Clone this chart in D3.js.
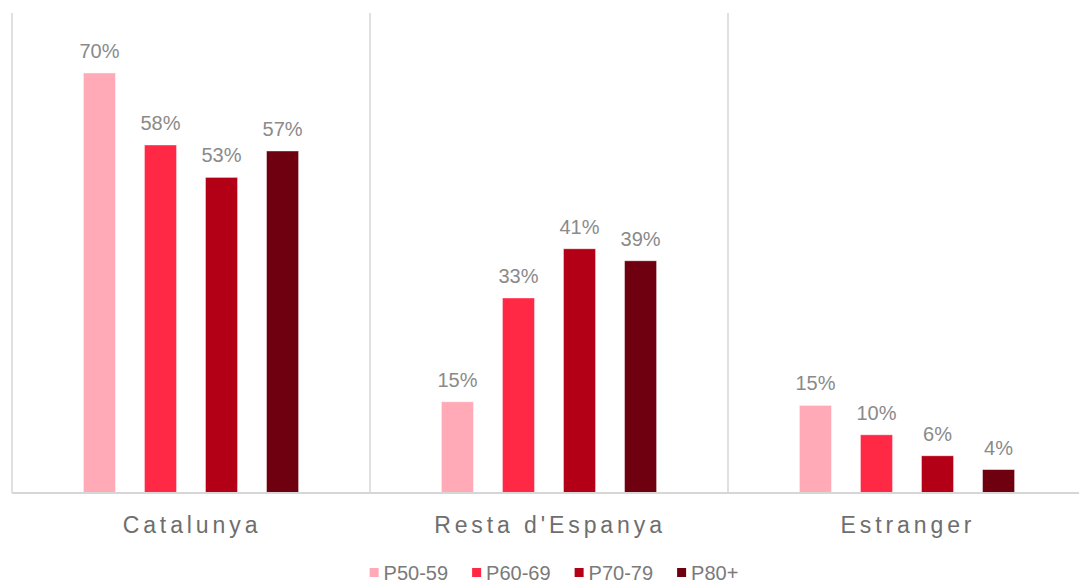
<!DOCTYPE html>
<html>
<head>
<meta charset="utf-8">
<script src="https://cdn.jsdelivr.net/npm/d3@7"></script>
<style>
  html, body { margin: 0; padding: 0; background: #fff; }
  svg { display: block; font-family: "Liberation Sans", Arial, sans-serif; }
</style>
</head>
<body>
<svg id="chart"></svg>
<script>
const width = 1079;
const height = 583;

// data (share of each age group)
const categories = ["Catalunya", "Resta d'Espanya", "Estranger"];
const series = ["P50-59", "P60-69", "P70-79", "P80+"];
const colors = ["#ffaab6", "#ff2946", "#b40016", "#6e0010"];
const values = {
    "P50-59": [0.70, 0.152, 0.146],
    "P60-69": [0.58, 0.325, 0.097],
    "P70-79": [0.526, 0.407, 0.062],
    "P80+":   [0.57, 0.387, 0.039]
};

const svg = d3.select("#chart")
    .attr("width", width)
    .attr("height", height);

const plot = { left: 12, right: 1086, top: 13, bottom: 493 };

const x0 = d3.scaleBand()
    .domain(categories)
    .range([plot.left, plot.right]);

const x1 = d3.scaleBand()
    .domain(series)
    .range([0, x0.bandwidth()])
    .paddingInner(0.475)
    .paddingOuter(1.17);

const y = d3.scaleLinear()
    .domain([0, 0.8])
    .range([plot.bottom, plot.top]);

const color = d3.scaleOrdinal().domain(series).range(colors);
const fmt = d3.format(".0%");

// vertical separators between categories
const seps = categories.map(c => x0(c)).concat([plot.right]);
svg.append("g")
    .selectAll("line")
    .data(seps)
    .enter()
    .append("line")
    .attr("x1", d => d)
    .attr("x2", d => d)
    .attr("y1", plot.top)
    .attr("y2", plot.bottom)
    .attr("stroke", "#d6d6d6")
    .attr("stroke-width", 1.5);

// bars
const rows = [];
categories.forEach((c, i) => {
    series.forEach(s => rows.push({ cat: c, s: s, v: values[s][i] }));
});

const g = svg.append("g");

g.selectAll("rect")
    .data(rows)
    .enter()
    .append("rect")
    .attr("x", d => x0(d.cat) + x1(d.s))
    .attr("y", d => y(d.v))
    .attr("width", x1.bandwidth())
    .attr("height", d => y(0) - y(d.v))
    .attr("fill", d => color(d.s))
    .attr("stroke", "#ffffff")
    .attr("stroke-opacity", 0.5)
    .attr("stroke-width", 0.8);

g.selectAll("text.val")
    .data(rows)
    .enter()
    .append("text")
    .attr("class", "val")
    .attr("x", d => x0(d.cat) + x1(d.s) + x1.bandwidth() / 2)
    .attr("y", d => y(d.v) - 15)
    .attr("text-anchor", "middle")
    .style("font-size", "20px")
    .style("fill", "#8a8a8a")
    .text(d => fmt(d.v));

// baseline
svg.append("line")
    .attr("x1", plot.left)
    .attr("x2", plot.right)
    .attr("y1", plot.bottom)
    .attr("y2", plot.bottom)
    .attr("stroke", "#d6d6d6")
    .attr("stroke-width", 2);

// category labels
svg.append("g")
    .selectAll("text")
    .data(categories)
    .enter()
    .append("text")
    .attr("x", d => x0(d) + x0.bandwidth() / 2 + 1)
    .attr("y", 533)
    .attr("text-anchor", "middle")
    .style("font-size", "23px")
    .style("letter-spacing", "3.9px")
    .style("fill", "#6e6e6e")
    .text(d => d);

// legend
const legend = svg.append("g");
let lx = 0;
series.forEach(s => {
    const item = legend.append("g").attr("transform", `translate(${lx},0)`);
    item.append("rect")
        .attr("x", 0)
        .attr("y", -5)
        .attr("width", 9)
        .attr("height", 9)
        .attr("fill", color(s));
    const t = item.append("text")
        .attr("x", 14)
        .attr("y", 7)
        .style("font-size", "20px")
        .style("fill", "#7a7a7a")
        .text(s);
    lx += 14 + t.node().getComputedTextLength() + 24;
});
const legendW = lx - 24;
legend.attr("transform", `translate(${(plot.left + plot.right) / 2 - legendW / 2 + 5},573)`);
</script>
</body>
</html>
